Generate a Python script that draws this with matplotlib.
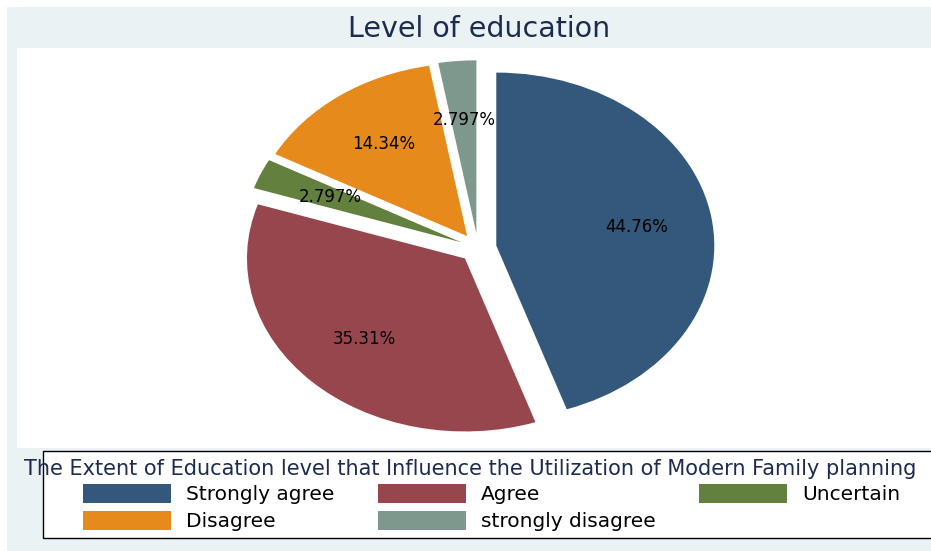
import matplotlib
matplotlib.use("Agg")
import matplotlib.pyplot as plt
from matplotlib.patches import Rectangle

# ---- data ----
categories = ["Strongly agree", "Agree", "Uncertain", "Disagree", "strongly disagree"]
percentages = [44.76, 35.31, 2.797, 14.34, 2.797]
colors = ["#33587B", "#98464D", "#63803E", "#E68A1C", "#7E988E"]
title = "Level of education"
legend_title = "The Extent of Education level that Influence the Utilization of Modern Family planning"

W, H = 931, 551
plt.rcParams['font.family'] = ['DejaVu Sans']
fig = plt.figure(figsize=(W / 100, H / 100), dpi=100, facecolor="white")

# background / layout axes in pixel coordinates
bg = fig.add_axes([0, 0, 1, 1], zorder=0)
bg.set_xlim(0, W)
bg.set_ylim(H, 0)
bg.axis("off")
bg.add_patch(Rectangle((7, 7), W, H, facecolor="#EAF2F3", edgecolor="none"))
plot_l, plot_t, plot_r, plot_b = 17, 48, W, 448
bg.add_patch(Rectangle((plot_l, plot_t), plot_r - plot_l, plot_b - plot_t,
                       facecolor="white", edgecolor="none"))
title_color = "#1C2B50"
bg.text(479, 37, title, ha="center", va="baseline", fontsize=20.5, color=title_color)

# legend box
bg.add_patch(Rectangle((43, 451), W + 10 - 43, 538 - 451, facecolor="white",
                       edgecolor="black", linewidth=1.0))
bg.text(24, 475, legend_title, ha="left", va="baseline", fontsize=15, color=title_color)
col_x = [83, 378, 699]
row_y = [484, 511]
sw_w, sw_h = 88, 19
text_dx = 103
for i, (lab, col) in enumerate(zip(categories, colors)):
    r, c = divmod(i, 3)
    x, y = col_x[c], row_y[r]
    bg.add_patch(Rectangle((x, y), sw_w, sw_h, facecolor=col, edgecolor="none"))
    bg.text(x + text_dx, y + 16, lab, ha="left", va="baseline", fontsize=14.5, color="black")

# pie axes
ax = fig.add_axes([plot_l / W, 1 - plot_b / H, (plot_r - plot_l) / W, (plot_b - plot_t) / H], zorder=1)
ax.patch.set_alpha(0)
wedges, texts, autotexts = ax.pie(
    percentages, colors=colors, startangle=90, counterclock=False,
    explode=[0.085] * len(percentages), autopct=lambda p: f"{p:.4g}%",
    pctdistance=0.655, wedgeprops=dict(linewidth=0),
    textprops=dict(fontsize=12, color="black"))
ax.set_aspect("auto")
cx, cy, rx, ry = 478, 248, 218, 173
x0 = -(cx - plot_l) / rx
x1 = x0 + (plot_r - plot_l) / rx
y1 = (cy - plot_t) / ry
y0 = y1 - (plot_b - plot_t) / ry
ax.set_xlim(x0, x1)
ax.set_ylim(y0, y1)
ax.axis("off")

fig.savefig("out.png", dpi=100, facecolor="white")
